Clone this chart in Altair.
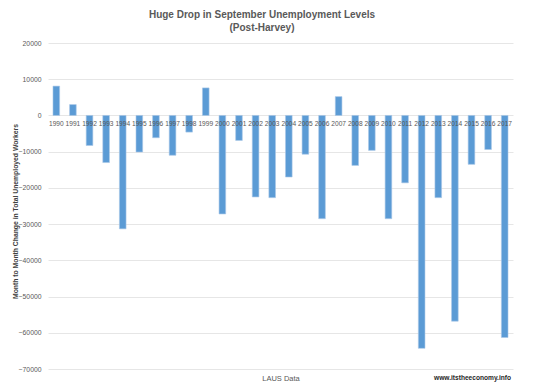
import altair as alt
import pandas as pd

years = [str(y) for y in range(1990, 2018)]
changes = [8100, 3000, -8300, -13000, -31300, -10100, -6150, -11000, -4600, 7600,
           -27200, -6900, -22500, -22700, -17000, -10700, -28500, 5200, -13800, -9650,
           -28500, -18600, -64300, -22700, -56800, -13500, -9400, -61300]
title_lines = ["Huge Drop in September Unemployment Levels", "(Post-Harvey)"]
source_note = "www.itstheeconomy.info"

df = pd.DataFrame({"year": years, "change": changes})

W, H = 465, 326
GRAY = "#595959"
FONT = "Liberation Sans, Arial, sans-serif"

xscale = alt.Scale(paddingInner=0.6, paddingOuter=0.3)
yscale = alt.Scale(domain=[-70000, 20000], nice=False)

yaxis = alt.Axis(values=list(range(-70000, 20001, 10000)), format="d",
                 labelOverlap=False,
                 ticks=False, domain=False, grid=True, gridColor="#e6e6e6",
                 labelFont=FONT, labelFontSize=6.8, labelColor=GRAY,
                 labelPadding=7,
                 title="Month to Month Change in Total Unemployed Workers",
                 titleFont=FONT, titleFontSize=6.8, titleFontWeight="bold",
                 titleColor="#404040", titleX=-33, titleY=H / 2 + 5,
                 titleAngle=270, titleAlign="center", titleBaseline="middle")

xaxis = alt.Axis(labels=False, ticks=False, domain=False, title="LAUS Data",
                 titleFont=FONT, titleFontSize=7.5, titleFontWeight="normal",
                 titleColor=GRAY, titleY=9, titleBaseline="middle")

base = alt.Chart(df)

bars = base.mark_bar(color="#5b9bd5", stroke="#a9c8e8", strokeWidth=0.6).encode(
    x=alt.X("year:N", scale=xscale, sort=years, axis=xaxis),
    y=alt.Y("change:Q", scale=yscale, axis=yaxis),
)

labels = base.mark_text(font=FONT, fontSize=6.6, color=GRAY, baseline="middle", dy=9).encode(
    x=alt.X("year:N", scale=xscale, sort=years, axis=xaxis),
    y=alt.Y(datum=0, scale=yscale, axis=yaxis),
    text="year:N",
)

site = alt.Chart(pd.DataFrame({"t": [source_note]})).mark_text(
    font=FONT, fontSize=6.6, fontWeight="bold", color="#262626", align="right",
    baseline="middle").encode(
    x=alt.value(W - 2), y=alt.value(H + 9), text="t:N")

ttl1 = alt.Chart(pd.DataFrame({"t": [title_lines[0]]})).mark_text(
    font=FONT, fontSize=10, fontWeight="bold", color=GRAY, align="center",
    baseline="middle").encode(x=alt.value(214), y=alt.value(-28), text="t:N")
ttl2 = alt.Chart(pd.DataFrame({"t": [title_lines[1]]})).mark_text(
    font=FONT, fontSize=10, fontWeight="bold", color=GRAY, align="center",
    baseline="middle").encode(x=alt.value(214), y=alt.value(-15), text="t:N")

chart = alt.layer(bars, labels, site, ttl1, ttl2).properties(
    width=W, height=H,
    autosize="none",
    padding={"left": 40, "top": 35, "right": 16, "bottom": 20},
).configure(background="white").configure_view(strokeWidth=0)

chart.save("out.html", embed_options={"renderer": "svg", "actions": False})
